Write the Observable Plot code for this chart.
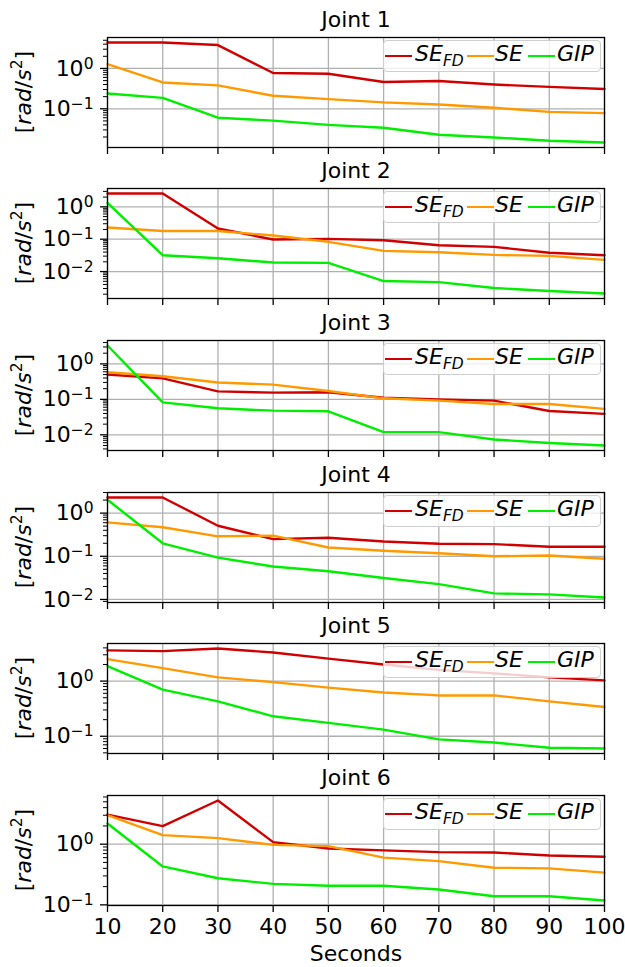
<!DOCTYPE html>
<html><head><meta charset="utf-8">
<script src="https://cdn.jsdelivr.net/npm/d3@7"></script>
<script src="https://cdn.jsdelivr.net/npm/@observablehq/plot@0.6"></script>
<style>
body{margin:0;background:#fff;}
#chart{position:relative;width:625px;height:967px;font-family:"DejaVu Sans",sans-serif;overflow:hidden;background:#fff;}
.panel{position:absolute;left:0;}
.legend{position:absolute;left:383px;width:218px;height:32px;border:1px solid #cfcfcf;border-radius:4px;background:rgba(255,255,255,0.8);box-sizing:border-box;}
.sw{position:absolute;top:14px;width:27px;height:0;border-top:2.4px solid;}
.lt{position:absolute;top:2px;font-style:italic;font-size:22px;line-height:22px;white-space:nowrap;color:#000;}
.lt .sub{font-size:15.5px;position:relative;top:5px;}
</style>
</head><body>
<div id="chart"></div>
<script>
const seconds = [10, 20, 30, 40, 50, 60, 70, 80, 90, 100];
const joints = ["Joint 1", "Joint 2", "Joint 3", "Joint 4", "Joint 5", "Joint 6"];
const seriesNames = ["SE_FD", "SE", "GIP"];
const seriesColors = ["#d00000", "#ff9900", "#00ee00"];

const j1_SEFD = [4.4, 4.4, 3.8, 0.77, 0.74, 0.46, 0.49, 0.40, 0.35, 0.31];
const j1_SE   = [1.28, 0.45, 0.38, 0.21, 0.174, 0.144, 0.128, 0.106, 0.084, 0.078];
const j1_GIP  = [0.24, 0.187, 0.060, 0.051, 0.040, 0.034, 0.0227, 0.0195, 0.0161, 0.0146];

const j2_SEFD = [2.58, 2.58, 0.214, 0.098, 0.102, 0.093, 0.065, 0.058, 0.038, 0.032];
const j2_SE   = [0.23, 0.18, 0.18, 0.13, 0.083, 0.0436, 0.0396, 0.0327, 0.0305, 0.0229];
const j2_GIP  = [1.33, 0.032, 0.0258, 0.019, 0.0186, 0.0051, 0.0047, 0.0031, 0.0025, 0.0021];

const j3_SEFD = [0.50, 0.39, 0.168, 0.155, 0.158, 0.111, 0.100, 0.092, 0.047, 0.039];
const j3_SE   = [0.58, 0.45, 0.30, 0.26, 0.172, 0.107, 0.092, 0.074, 0.074, 0.054];
const j3_GIP  = [3.3, 0.082, 0.056, 0.048, 0.046, 0.0119, 0.0119, 0.0074, 0.0059, 0.0050];

const j4_SEFD = [2.3, 2.3, 0.51, 0.25, 0.268, 0.22, 0.195, 0.191, 0.166, 0.166];
const j4_SE   = [0.61, 0.47, 0.29, 0.30, 0.160, 0.134, 0.118, 0.100, 0.104, 0.088];
const j4_GIP  = [2.04, 0.20, 0.093, 0.058, 0.045, 0.0315, 0.0227, 0.0138, 0.0131, 0.0111];

const j5_SEFD = [3.6, 3.5, 3.9, 3.3, 2.55, 2.0, 1.6, 1.38, 1.17, 1.03];
const j5_SE   = [2.5, 1.72, 1.17, 0.96, 0.76, 0.62, 0.55, 0.55, 0.43, 0.34];
const j5_GIP  = [1.87, 0.70, 0.43, 0.23, 0.175, 0.132, 0.088, 0.077, 0.062, 0.060];

const j6_SEFD = [3.08, 1.98, 5.25, 1.08, 0.85, 0.79, 0.74, 0.73, 0.65, 0.62];
const j6_SE   = [3.0, 1.41, 1.26, 0.975, 0.93, 0.60, 0.525, 0.41, 0.40, 0.34];
const j6_GIP  = [2.19, 0.43, 0.275, 0.222, 0.206, 0.206, 0.179, 0.139, 0.139, 0.118];

const jointSeries = [
  [j1_SEFD, j1_SE, j1_GIP],
  [j2_SEFD, j2_SE, j2_GIP],
  [j3_SEFD, j3_SE, j3_GIP],
  [j4_SEFD, j4_SE, j4_GIP],
  [j5_SEFD, j5_SE, j5_GIP],
  [j6_SEFD, j6_SE, j6_GIP]
];

const NS = "http://www.w3.org/2000/svg";
const chart = document.getElementById("chart");
const tops = [0, 151, 303, 455, 606, 758];
const mTop = 37, ph = 110, mLeft = 107, mRight = 21;
const FS = 22;

function superscriptY(svg) {
  svg.querySelectorAll("text").forEach(t => {
    const s = t.textContent;
    if (s.startsWith("10^")) {
      t.textContent = "10";
      const ts = document.createElementNS(NS, "tspan");
      ts.setAttribute("dy", "-0.45em");
      ts.setAttribute("font-size", "15.5px");
      ts.textContent = s.slice(3);
      t.appendChild(ts);
    }
  });
}

function addYLabel(svg) {
  const cy = mTop + ph / 2;
  const t = document.createElementNS(NS, "text");
  t.setAttribute("transform", `translate(31,${cy}) rotate(-90)`);
  t.setAttribute("text-anchor", "middle");
  t.setAttribute("font-size", FS + "px");
  t.setAttribute("fill", "black");
  const parts = [["[", "normal", 0, null], ["rad", "italic", 0, null], ["/", "normal", 0, null], ["s", "italic", 0, null], ["2", "normal", -9, "15.5px"], ["]", "normal", 9, null]];
  for (const [txt, style, dy, fs] of parts) {
    const ts = document.createElementNS(NS, "tspan");
    ts.setAttribute("font-style", style);
    if (dy) ts.setAttribute("dy", dy);
    if (fs) ts.setAttribute("font-size", fs);
    ts.textContent = txt;
    t.appendChild(ts);
  }
  svg.appendChild(t);
}

joints.forEach((title, i) => {
  const series = jointSeries[i];
  const last = i === joints.length - 1;
  const H = last ? 967 - tops[i] : tops[i + 1] - tops[i];
  const all = series.flat();
  const lmin = Math.log10(d3.min(all)), lmax = Math.log10(d3.max(all));
  const pad = 0.05 * (lmax - lmin);
  const lo = lmin - pad, hi = lmax + pad;
  const domain = [10 ** lo, 10 ** hi];
  const majors = d3.range(Math.ceil(lo), Math.floor(hi) + 1).map(e => 10 ** e);
  const minors = [];
  for (let e = Math.floor(lo); e <= Math.floor(hi); e++)
    for (let k = 2; k <= 9; k++) {
      const v = k * 10 ** e;
      if (v >= domain[0] && v <= domain[1]) minors.push(v);
    }

  const marks = [
    Plot.gridX(seconds, {stroke: "#b0b0b0", strokeOpacity: 1, strokeWidth: 1.3}),
    Plot.gridY(majors, {stroke: "#b0b0b0", strokeOpacity: 1, strokeWidth: 1.3}),
    ...series.map((vals, s) => Plot.lineY(vals, {x: seconds, stroke: seriesColors[s], strokeWidth: 2.4})),
    Plot.frame({stroke: "black", strokeWidth: 1.3}),
    Plot.axisY(minors, {tickSize: 4, tickFormat: () => "", strokeWidth: 1, label: null}),
    Plot.axisY(majors, {tickSize: 7, tickPadding: 7, strokeWidth: 1.3, label: null,
      tickFormat: d => "10^" + String(Math.round(Math.log10(d))).replace("-", "\u2212")}),
    Plot.axisX(seconds, {tickSize: 7, tickPadding: 6, strokeWidth: 1.3, label: null,
      tickFormat: last ? (d => String(d)) : (() => "")}),
    Plot.text([title], {frameAnchor: "top", lineAnchor: "middle", dy: -18, fontSize: FS, fill: "black"})
  ];
  if (last) marks.push(Plot.text(["Seconds"], {frameAnchor: "bottom", lineAnchor: "middle", dy: 48, fontSize: FS, fill: "black"}));

  const svg = Plot.plot({
    width: 625, height: H,
    marginLeft: mLeft, marginRight: mRight, marginTop: mTop, marginBottom: H - mTop - ph,
    style: {fontFamily: "DejaVu Sans", fontSize: FS + "px", color: "black", background: "transparent", overflow: "visible"},
    x: {domain: [10, 100]},
    y: {type: "log", domain},
    marks
  });
  superscriptY(svg);
  addYLabel(svg);
  svg.classList.add("panel");
  svg.style.position = "absolute";
  svg.style.top = tops[i] + "px";
  chart.appendChild(svg);

  // legend
  const lg = document.createElement("div");
  lg.className = "legend";
  lg.style.top = (tops[i] + mTop + 3) + "px";
  const swLefts = [1, 83, 144], txtLefts = [31, 111, 173];
  seriesNames.forEach((name, s) => {
    const sw = document.createElement("div");
    sw.className = "sw";
    sw.style.left = swLefts[s] + "px";
    sw.style.borderTopColor = seriesColors[s];
    lg.appendChild(sw);
    const tx = document.createElement("div");
    tx.className = "lt";
    tx.style.left = txtLefts[s] + "px";
    if (name === "SE_FD") tx.innerHTML = 'SE<span class="sub">FD</span>';
    else tx.textContent = name;
    lg.appendChild(tx);
  });
  chart.appendChild(lg);
});
</script>
</body></html>
